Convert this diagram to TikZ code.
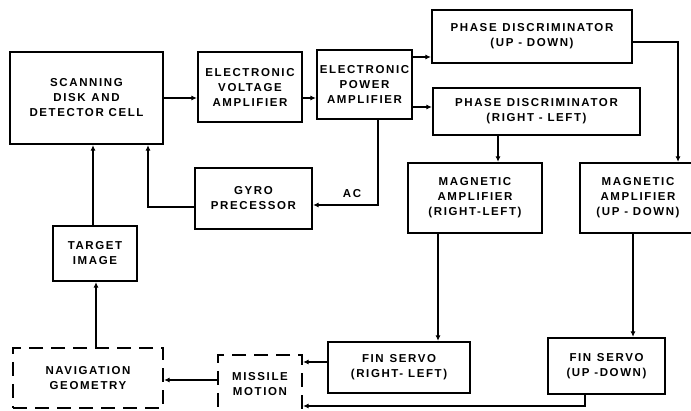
\documentclass[tikz,border=0pt]{standalone}
\usepackage{fontspec}
\newfontfamily\blockfont{Liberation Sans}[LetterSpace=14]
\usetikzlibrary{arrows.meta}

\begin{document}
\begin{tikzpicture}[x=1pt,y=-1pt,
    block/.style={draw,line width=2.2pt,align=center,inner sep=0pt,
        font=\blockfont\bfseries\fontsize{11.5}{15}\selectfont},
    dashblock/.style={block,dash pattern=on 14pt off 8pt},
    conn/.style={line width=1.2pt,-{Latex[length=5.5pt,width=5pt]}}]

    % 描画範囲
    \useasboundingbox (0,0) rectangle (691,411);

    % ブロックの配置
    \node[block,minimum width=153pt,minimum height=92pt] (scan) at (86.5,98)
        {SCANNING\\DISK\enspace AND\\DETECTOR CELL};
    \node[block,minimum width=104pt,minimum height=70pt] (eva) at (250,87)
        {ELECTRONIC\\VOLTAGE\\AMPLIFIER};
    \node[block,minimum width=95pt,minimum height=69pt] (epa) at (364.5,84.5)
        {ELECTRONIC\\POWER\\AMPLIFIER};
    \node[block,minimum width=200pt,minimum height=53pt] (pdud) at (532,36.5)
        {PHASE\enspace DISCRIMINATOR\\(UP - DOWN)};
    \node[block,minimum width=207pt,minimum height=47pt] (pdrl) at (536.5,111.5)
        {PHASE\enspace DISCRIMINATOR\\(RIGHT - LEFT)};
    \node[block,minimum width=134pt,minimum height=70pt] (marl) at (475,198)
        {MAGNETIC\\AMPLIFIER\\(RIGHT-LEFT)};
    \node[block,minimum width=116pt,minimum height=70pt] (maud) at (638,198)
        {MAGNETIC\\AMPLIFIER\\(UP - DOWN)};
    \node[block,minimum width=117pt,minimum height=61pt] (gyro) at (253.5,198.5)
        {GYRO\\PRECESSOR};
    \node[block,minimum width=84pt,minimum height=55pt] (target) at (95,253.5)
        {TARGET\\IMAGE};
    \node[dashblock,minimum width=150pt,minimum height=60pt] (nav) at (88,378)
        {NAVIGATION\\GEOMETRY};
    \node[dashblock,minimum width=84pt,minimum height=58pt] (motion) at (260,384)
        {MISSILE\\MOTION};
    \node[block,minimum width=142pt,minimum height=51pt] (fsrl) at (399,367.5)
        {FIN\enspace SERVO\\(RIGHT- LEFT)};
    \node[block,minimum width=117pt,minimum height=56pt] (fsud) at (606.5,366)
        {FIN\enspace SERVO\\(UP -DOWN)};

    % 信号の流れ
    \draw[conn] (scan.east) -- (scan.east -| eva.west);
    \draw[conn] (eva.east |- scan.east) -- (epa.west |- scan.east);
    \draw[conn] ([yshift=27.5pt]epa.east) coordinate (e1) -- (e1 -| pdud.west);
    \draw[conn] ([yshift=-22.5pt]epa.east) coordinate (e2) -- (e2 -| pdrl.west);
    \draw[conn] ([yshift=-5.5pt]pdud.east) -| ([xshift=40pt]maud.north);
    \draw[conn] ([xshift=-38.5pt]pdrl.south) coordinate (p1) -- (p1 |- marl.north);

    % ジャイロへの帰還
    \draw[conn] ([xshift=13.5pt]epa.south) |- ([yshift=-6.5pt]gyro.east)
        node[pos=0.7,above=3pt,font=\blockfont\bfseries\fontsize{11.5}{15}\selectfont] {AC};
    \draw[conn] ([yshift=-8.5pt]gyro.west) -| ([xshift=61.5pt]scan.south);
    \draw[conn] ([xshift=-2pt]target.north) coordinate (t1) -- (t1 |- scan.south);
    \draw[conn] ([xshift=1pt]target.south |- nav.north) coordinate (n1) -- (n1 |- target.south);

    % フィンから機体運動へ
    \draw[conn] ([xshift=-37pt]marl.south) coordinate (m1) -- (m1 |- fsrl.north);
    \draw[conn] ([xshift=-5pt]maud.south) coordinate (m2) -- (m2 |- fsud.north);
    \draw[conn] ([yshift=5.5pt]fsrl.west) coordinate (f1) -- (f1 -| motion.east);
    \draw[conn] ([xshift=-21.5pt]fsud.south) |- ([yshift=-22pt]motion.east);
    \draw[conn] ([yshift=4pt]motion.west) coordinate (f2) -- (f2 -| nav.east);

\end{tikzpicture}
\end{document}
